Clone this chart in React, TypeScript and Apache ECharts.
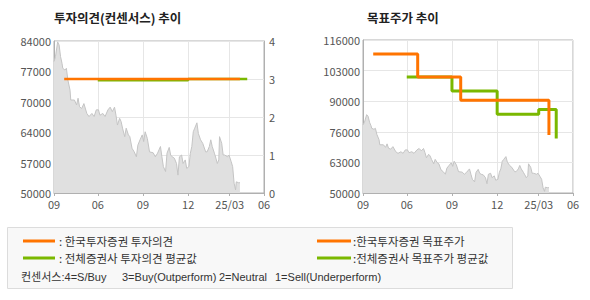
import React, { useEffect, useRef } from "react";
import * as echarts from "echarts";

// ---- data ----
const xTickValues = [0, 60, 122, 184, 241, 288];
const xTickLabels = ["09", "06", "09", "12", "25/03", "06"];

const opinionPriceLabels = ["50000", "57000", "64000", "70000", "77000", "84000"];
const targetPriceLabels = ["50000", "63000", "76000", "90000", "103000", "116000"];
const opinionScaleLabels = ["0", "1", "2", "3", "4"];

// trading-day index, closing price
const priceDays = [
  0, 2, 5, 7, 9, 11, 12, 15, 17, 19, 22, 23, 28, 31, 33, 35, 38, 41, 45, 48,
  52, 55, 58, 61, 63, 67, 70, 74, 77, 80, 83, 85, 87, 90, 92, 94, 97, 99, 102, 104,
  107, 110, 113, 115, 118, 121, 123, 125, 128, 131, 136, 139, 142, 146, 148, 150, 153, 155, 158, 160,
  162, 165, 168, 170, 172, 175, 177, 180, 182, 185, 187, 189, 191, 193, 196, 198, 201, 204, 208, 210,
  213, 215, 217, 220, 222, 224, 226, 227, 230, 232, 234, 238, 240, 243, 245, 247, 249, 250, 253, 255,
];
const priceValues = [
  79400, 80500, 83800, 83100, 80500, 79000, 77900, 77500, 77900, 75300, 73000, 70800, 70800, 69700, 71200, 69300, 68900, 70000, 67800, 67100,
  67800, 67100, 68600, 68600, 67400, 67800, 67100, 68600, 69200, 68200, 69200, 67400, 65200, 66700, 66000, 64500, 62600, 64500, 63000, 62600,
  60000, 59200, 58100, 60700, 61900, 63000, 61500, 63700, 62200, 59200, 59000, 58100, 58900, 60400, 58100, 55900, 54800, 58900, 60200, 58500,
  58100, 57800, 56600, 54000, 58100, 58500, 56600, 57400, 55500, 55900, 58900, 60400, 63700, 64500, 65700, 63300, 61900, 61100, 59200, 59200,
  60400, 61900, 60400, 58900, 57800, 56600, 57400, 62600, 61100, 58500, 58500, 58100, 58500, 57000, 55900, 52200, 50700, 52500, 52300, 52300,
];

const kisOpinionDays = [14, 255];
const kisOpinionValues = [3, 3];
const avgOpinionDays = [60, 184, 265];
const avgOpinionValues = [2.97, 3, 3];

const kisTargetDays = [14, 75, 134, 255];
const kisTargetValues = [110000, 100000, 90000, 75000];
const avgTargetDays = [60, 122, 184, 241, 265];
const avgTargetValues = [100000, 94000, 84000, 86000, 73500];

const ORANGE = "#ff7400";
const GREEN = "#7ab800";
const FONT = '"Noto Sans CJK KR", "Noto Sans", sans-serif';
const FONT_NOTE = '"Liberation Sans", "Noto Sans CJK KR", sans-serif';

const zip = (a: number[], b: number[]) => a.map((v, i) => [v, b[i]]);

export default function App() {
  const ref = useRef<HTMLDivElement>(null);
  useEffect(() => {
    if (!ref.current) return;
    const chart = echarts.init(ref.current, null, { renderer: "svg" });
    const axisLineStyle = { color: "#b0b0b0", width: 1 };
    const labelStyle = { color: "#555", fontSize: 11, fontFamily: FONT };
    const splitStyle = { color: "#e6e6e6", width: 1 };

    const xAxisBase = (gridIndex: number) => ({
      type: "value",
      gridIndex,
      min: 0,
      max: 288,
      axisLine: { show: true, lineStyle: axisLineStyle },
      axisTick: { show: true, length: 3, customValues: xTickValues, lineStyle: axisLineStyle },
      axisLabel: {
        ...labelStyle,
        margin: 5,
        customValues: xTickValues,
        formatter: (v: number) => xTickLabels[xTickValues.indexOf(v)] ?? "",
      },
      splitLine: { show: true, lineStyle: splitStyle },
    });

    const labelAxis = (gridIndex: number, labels: string[], split: boolean) => ({
      type: "value",
      gridIndex,
      position: "left",
      min: 0,
      max: labels.length - 1,
      interval: 1,
      axisLine: { show: true, lineStyle: axisLineStyle },
      axisTick: { show: false },
      axisLabel: { ...labelStyle, margin: 3, formatter: (v: number) => labels[Math.round(v)] ?? "" },
      splitLine: { show: split, lineStyle: splitStyle },
    });

    const priceSeries = (xAxisIndex: number, yAxisIndex: number) => ({
      type: "line",
      xAxisIndex,
      yAxisIndex,
      data: zip(priceDays, priceValues),
      showSymbol: false,
      symbol: "none",
      lineStyle: { color: "#c4c4c4", width: 1 },
      areaStyle: { color: "#e0e0e0", opacity: 1, origin: "start" },
      z: 1,
    });

    const stepSeries = (xAxisIndex: number, yAxisIndex: number, days: number[], vals: number[], color: string, width: number, z: number) => ({
      type: "line",
      xAxisIndex,
      yAxisIndex,
      step: "end",
      data: zip(days, vals),
      showSymbol: false,
      symbol: "none",
      lineStyle: { color, width },
      z,
    });

    const legendText = (x: number, y: number, text: string, font = `11.5px ${FONT}`) => ({
      type: "text",
      x,
      y,
      style: { text, font, fill: "#333", verticalAlign: "middle", align: "left" },
    });
    const noteFont = `11px ${FONT_NOTE}`;

    chart.setOption({
      animation: false,
      backgroundColor: "#ffffff",
      grid: [
        { left: 54, top: 41, width: 210, height: 152, show: true, borderColor: "#b0b0b0", borderWidth: 1, backgroundColor: "transparent" },
        { left: 363, top: 40, width: 210, height: 153, show: true, borderColor: "#b0b0b0", borderWidth: 1, backgroundColor: "transparent" },
      ],
      xAxis: [xAxisBase(0), xAxisBase(1)],
      yAxis: [
        labelAxis(0, opinionPriceLabels, false),
        { type: "value", gridIndex: 0, min: 50000, max: 84000, show: false },
        {
          type: "value",
          gridIndex: 0,
          position: "right",
          min: 0,
          max: 4,
          interval: 1,
          axisLine: { show: true, lineStyle: axisLineStyle },
          axisTick: { show: false },
          axisLabel: { ...labelStyle, margin: 5, formatter: (v: number) => opinionScaleLabels[Math.round(v)] ?? "" },
          splitLine: { show: true, lineStyle: splitStyle },
        },
        labelAxis(1, targetPriceLabels, true),
        { type: "value", gridIndex: 1, min: 50000, max: 116000, show: false },
      ],
      series: [
        priceSeries(0, 1),
        stepSeries(0, 2, avgOpinionDays, avgOpinionValues, GREEN, 2.5, 2),
        stepSeries(0, 2, kisOpinionDays, kisOpinionValues, ORANGE, 2.5, 3),
        priceSeries(1, 4),
        stepSeries(1, 4, avgTargetDays, avgTargetValues, GREEN, 3, 2),
        stepSeries(1, 4, kisTargetDays, kisTargetValues, ORANGE, 3, 3),
      ],
      graphic: [
        { type: "text", x: 54, y: 17, style: { text: "투자의견(컨센서스) 추이", font: `bold 12.5px ${FONT}`, fill: "#222", verticalAlign: "middle" } },
        { type: "text", x: 367, y: 17, style: { text: "목표주가 추이", font: `bold 12.5px ${FONT}`, fill: "#222", verticalAlign: "middle" } },
        { type: "rect", shape: { x: 7.5, y: 227.5, width: 505, height: 61 }, style: { fill: "#f8f8f8", stroke: "#dcdcdc", lineWidth: 1 } },
        { type: "line", shape: { x1: 23, y1: 241, x2: 55, y2: 241 }, style: { stroke: ORANGE, lineWidth: 3 } },
        { type: "line", shape: { x1: 23, y1: 258, x2: 55, y2: 258 }, style: { stroke: GREEN, lineWidth: 3 } },
        { type: "line", shape: { x1: 317, y1: 241, x2: 351, y2: 241 }, style: { stroke: ORANGE, lineWidth: 3 } },
        { type: "line", shape: { x1: 317, y1: 258, x2: 351, y2: 258 }, style: { stroke: GREEN, lineWidth: 3 } },
        legendText(59, 241, ": 한국투자증권 투자의견"),
        legendText(59, 258, ": 전체증권사 투자의견 평균값"),
        legendText(353, 241, ":한국투자증권 목표주가"),
        legendText(353, 258, ":전체증권사 목표주가 평균값"),
        legendText(21, 277, "컨센서스:4=S/Buy", noteFont),
        legendText(122, 277, "3=Buy(Outperform)", noteFont),
        legendText(219, 277, "2=Neutral", noteFont),
        legendText(275, 277, "1=Sell(Underperform)", noteFont),
      ],
    });
    return () => chart.dispose();
  }, []);
  return <div ref={ref} style={{ position: "absolute", left: 0, top: 0, width: 590, height: 300, background: "#fff" }} />;
}
